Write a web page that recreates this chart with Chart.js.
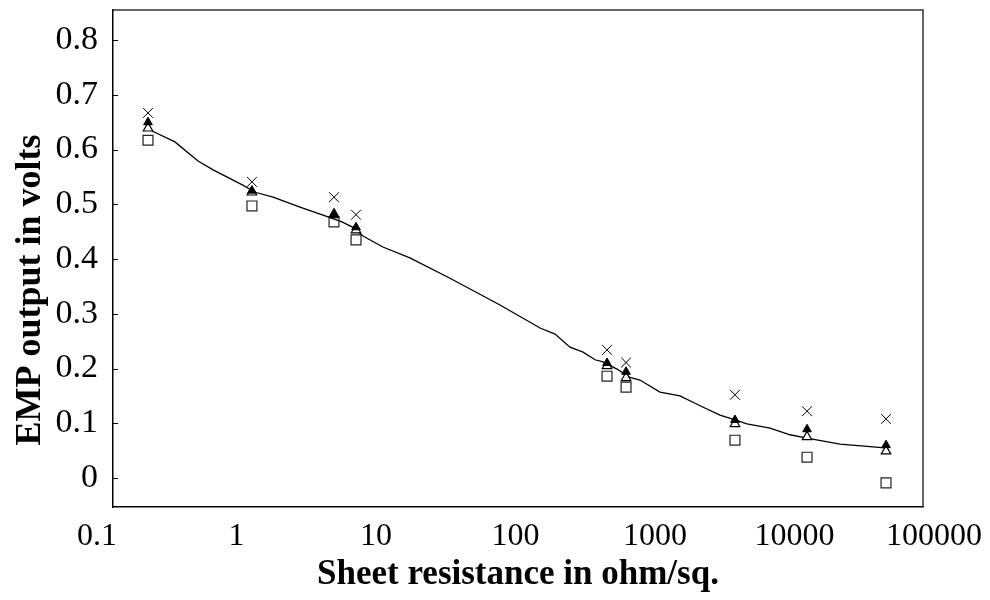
<!DOCTYPE html>
<html>
<head>
<meta charset="utf-8">
<script src="https://cdn.jsdelivr.net/npm/chart.js@4.4.1/dist/chart.umd.min.js"></script>
<style>
  html, body { margin: 0; padding: 0; background: #fff; }
  #wrap { width: 990px; height: 600px; }
</style>
</head>
<body>
<div id="wrap"><canvas id="c" width="990" height="600"></canvas></div>
<script>
// Tick labels
const xTickValues = [0.1, 1, 10, 100, 1000, 10000, 100000];
const yTickValues = [0, 0.1, 0.2, 0.3, 0.4, 0.5, 0.6, 0.7, 0.8];
const xMin = 0.1302, xMax = 83400;
const yMin = -0.053, yMax = 0.855;

// Measured samples: sheet resistance (ohm/sq.)
const sheetR = [0.232, 1.29, 5.0, 7.19, 453, 620, 3743, 12300, 45300];
// EMP output series (volts)
const crossV  = [0.667, 0.541, 0.513, 0.481, 0.234, 0.211, 0.152, 0.122, 0.108];
const filledV = [0.650, 0.525, 0.480, 0.458, 0.210, 0.194, 0.106, 0.089, 0.060];
const triV    = [0.639, 0.522, 0.482, 0.453, 0.205, 0.183, 0.099, 0.075, 0.049];
const squareV = [0.617, 0.497, 0.468, 0.435, 0.186, 0.166, 0.069, 0.038, -0.009];

// Fitted curve
const curveR = [0.248, 0.362, 0.530, 0.680, 1.11, 1.36, 1.83, 2.85, 4.53, 5.70, 6.84, 8.07, 11.2, 17.5, 33.9, 77.4, 150, 192, 246, 305, 372, 424, 534, 662, 780, 1086, 1511, 2103, 2924, 3744, 4563, 6670, 9290, 12300, 21200, 44600];
const curveV = [0.634, 0.614, 0.579, 0.563, 0.535, 0.522, 0.513, 0.495, 0.477, 0.468, 0.458, 0.442, 0.422, 0.402, 0.365, 0.316, 0.274, 0.263, 0.239, 0.230, 0.216, 0.212, 0.199, 0.184, 0.179, 0.157, 0.150, 0.132, 0.115, 0.106, 0.099, 0.091, 0.079, 0.073, 0.062, 0.055];

const pts = (xs, ys) => xs.map((x, i) => ({x: x, y: ys[i]}));

const framePlugin = {
  id: 'frame',
  afterDraw(chart) {
    const {ctx, chartArea: a, scales} = chart;
    ctx.save();
    ctx.strokeStyle = '#333';
    ctx.lineWidth = 1.5;
    ctx.beginPath();
    ctx.moveTo(a.left, a.top);
    ctx.lineTo(a.right, a.top);
    ctx.lineTo(a.right, a.bottom);
    ctx.stroke();
    // inward tick marks on y axis
    ctx.strokeStyle = '#000';
    ctx.lineWidth = 1;
    scales.y.ticks.forEach(t => {
      const yp = Math.round(scales.y.getPixelForValue(t.value)) + 0.5;
      ctx.beginPath();
      ctx.moveTo(a.left, yp);
      ctx.lineTo(a.left + 5, yp);
      ctx.stroke();
    });
    ctx.restore();
  }
};

const serif = 'Liberation Serif, Times New Roman, serif';

new Chart(document.getElementById('c'), {
  type: 'scatter',
  data: {
    datasets: [
      {
        type: 'line', label: 'fit', data: pts(curveR, curveV),
        borderColor: '#000', borderWidth: 1.3, pointRadius: 0, tension: 0, fill: false, order: 5
      },
      {
        label: 'square', data: pts(sheetR, squareV), pointStyle: 'rect', pointRadius: 7,
        borderColor: '#222', borderWidth: 1.2, backgroundColor: 'rgba(255,255,255,0)', order: 4
      },
      {
        label: 'open triangle', data: pts(sheetR, triV), pointStyle: 'triangle', pointRadius: 5.5,
        borderColor: '#000', borderWidth: 1.2, backgroundColor: '#fff', order: 3
      },
      {
        label: 'filled triangle', data: pts(sheetR, filledV), pointStyle: 'triangle', pointRadius: 5,
        borderColor: '#000', borderWidth: 1, backgroundColor: '#000', order: 2
      },
      {
        label: 'cross', data: pts(sheetR, crossV), pointStyle: 'crossRot', pointRadius: 7,
        borderColor: '#000', borderWidth: 1, order: 1
      }
    ]
  },
  options: {
    responsive: false,
    animation: false,
    devicePixelRatio: 1,
    layout: { padding: { top: 10, right: 67, left: 0, bottom: 0 } },
    plugins: { legend: { display: false }, tooltip: { enabled: false } },
    scales: {
      x: {
        type: 'logarithmic',
        min: xMin, max: xMax,
        afterBuildTicks: s => { s.ticks = xTickValues.map(v => ({value: v})); },
        afterFit: s => { s.height = 93; s.paddingLeft = 0; s.paddingRight = 0; },
        grid: { display: false, drawTicks: false },
        border: { display: true, color: '#000', width: 1.5 },
        ticks: {
          autoSkip: false, maxRotation: 0, padding: 10, color: '#000',
          font: { family: serif, size: 32 },
          callback: v => String(v)
        },
        title: {
          display: true, text: 'Sheet resistance in ohm/sq.', color: '#000',
          font: { family: serif, size: 35, weight: 'bold' }, padding: { top: 0, bottom: 4 }
        }
      },
      y: {
        type: 'linear',
        min: yMin, max: yMax,
        afterBuildTicks: s => { s.ticks = yTickValues.map(v => ({value: v})); },
        afterFit: s => { s.width = 113; s.paddingTop = 0; s.paddingBottom = 0; },
        grid: { display: false, drawTicks: false },
        border: { display: true, color: '#000', width: 1.5 },
        ticks: {
          autoSkip: false, padding: 15, color: '#000',
          font: { family: serif, size: 34 },
          callback: v => String(Math.round(v * 10) / 10)
        },
        title: {
          display: true, text: 'EMP output in volts       ', color: '#000',
          font: { family: serif, size: 36, weight: 'bold' }, padding: { top: 9, bottom: 0 }
        }
      }
    }
  },
  plugins: [framePlugin]
});
</script>
</body>
</html>
